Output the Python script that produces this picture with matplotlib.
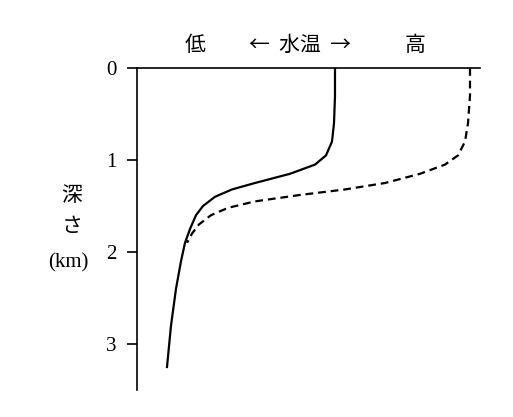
import matplotlib.pyplot as plt

plt.rcParams['font.family'] = ['Noto Sans CJK JP', 'DejaVu Sans']

# depth (km) vs. relative water temperature (arbitrary units, low -> high)
depth_solid = [0.0, 0.3, 0.6, 0.8, 0.95, 1.05, 1.15, 1.25, 1.32, 1.4, 1.5, 1.6, 1.75, 1.9, 2.1, 2.4, 2.8, 3.25]
temp_solid = [335, 335, 334, 332, 326, 315, 290, 255, 232, 215, 203, 196, 190, 185, 181, 176, 171, 167]

depth_dash = [0.0, 0.3, 0.6, 0.8, 0.95, 1.05, 1.15, 1.25, 1.32, 1.38, 1.45, 1.52, 1.6, 1.7, 1.8, 1.9]
temp_dash = [470, 470, 468, 465, 458, 445, 420, 385, 345, 300, 255, 228, 211, 199, 192, 187]

yticks = [0, 1, 2, 3]

fig = plt.figure(figsize=(5.13, 4.17), dpi=100)
ax = fig.add_axes([137 / 513, 1 - 390 / 417, (480 - 137) / 513, (390 - 68) / 417])

ax.plot(temp_solid, depth_solid, color='black', lw=1.6)
ax.plot(temp_dash, depth_dash, color='black', lw=1.6, ls=(0, (3.5, 2.2)))

ax.set_xlim(137, 480)
ax.set_ylim(3.5, 0)
ax.set_yticks(yticks)
ax.set_yticklabels([str(t) for t in yticks], fontfamily='Liberation Serif', fontsize=15)
ax.tick_params(axis='y', direction='out', length=7, width=1.2, pad=8)
ax.set_xticks([])
for s in ['right', 'bottom']:
    ax.spines[s].set_visible(False)
for s in ['left', 'top']:
    ax.spines[s].set_linewidth(1.2)

fig.text(195 / 513, 1 - 45 / 417, '低', fontsize=15, ha='center', va='center')
fig.text(300 / 513, 1 - 45 / 417, '←  水温  →', fontsize=15, ha='center', va='center')
fig.text(415 / 513, 1 - 45 / 417, '高', fontsize=15, ha='center', va='center')

fig.text(72 / 513, 1 - 195 / 417, '深', fontsize=15, ha='center', va='center')
fig.text(72 / 513, 1 - 226 / 417, 'さ', fontsize=15, ha='center', va='center')
fig.text(68 / 513, 1 - 263 / 417, '(km)', fontsize=15, ha='center', va='center',
         fontfamily='Liberation Serif')

fig.savefig('out.png', dpi=100, facecolor='white')
